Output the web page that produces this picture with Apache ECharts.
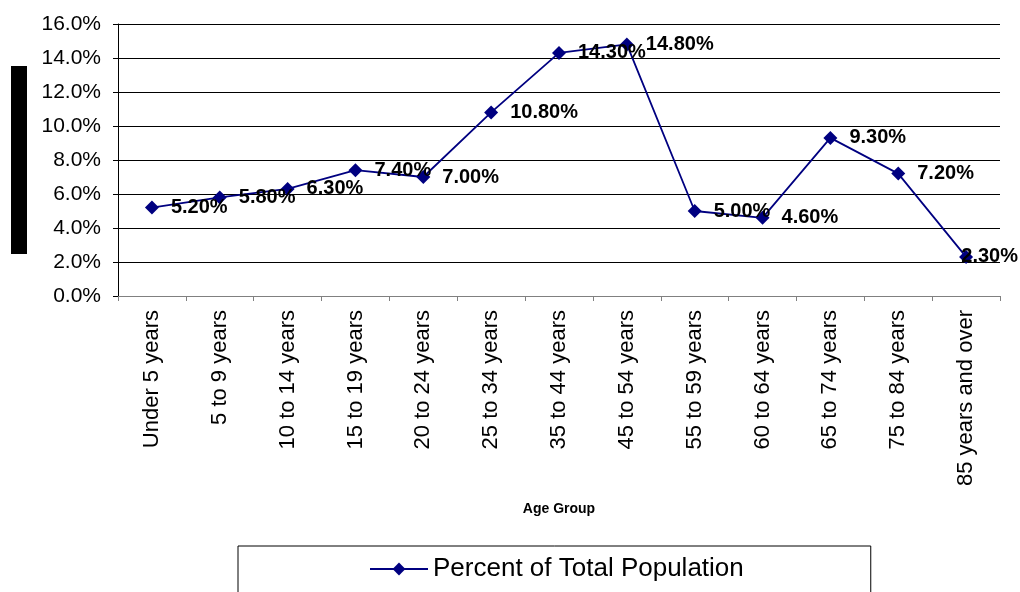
<!DOCTYPE html>
<html>
<head>
<meta charset="utf-8">
<script src="https://cdn.jsdelivr.net/npm/echarts@6/dist/echarts.min.js"></script>
<style>
  html, body { margin: 0; padding: 0; background: #fff; }
  #chart { width: 1020px; height: 592px; }
</style>
</head>
<body>
<div id="chart"></div>
<script>
  const categories = ['Under 5 years', '5 to 9 years', '10 to 14 years', '15 to 19 years', '20 to 24 years', '25 to 34 years',
    '35 to 44 years', '45 to 54 years', '55 to 59 years', '60 to 64 years', '65 to 74 years', '75 to 84 years', '85 years and over']
  const percentValues = [5.2, 5.8, 6.3, 7.4, 7.0, 10.8, 14.3, 14.8, 5.0, 4.6, 9.3, 7.2, 2.3]
  const seriesName = 'Percent of Total Population'

  const chart = echarts.init(document.getElementById('chart'))
  const font = 'Arial, "Liberation Sans", sans-serif'
  chart.setOption({
    animation: false,
    grid: { left: 118, right: 20, top: 24, bottom: 296 },
    graphic: [
      { type: 'rect', left: 11, top: 66, shape: { width: 16, height: 188 }, style: { fill: '#000' } },
    ],
    legend: {
      data: [seriesName],
      left: 238,
      top: 546,
      padding: [10, 127, 40, 131],
      borderColor: '#000',
      borderWidth: 1,
      itemWidth: 58,
      itemHeight: 16,
      itemGap: 4,
      textStyle: { fontFamily: font, fontSize: 26, color: '#000' },
    },
    xAxis: {
      type: 'category',
      data: categories,
      boundaryGap: true,
      name: 'Age Group',
      nameLocation: 'middle',
      nameGap: 206,
      nameTextStyle: { fontFamily: font, fontSize: 14, fontWeight: 'bold', color: '#000' },
      axisLine: { lineStyle: { color: '#808080', width: 1 } },
      axisTick: { show: true, alignWithLabel: false, length: 5, lineStyle: { color: '#808080' } },
      axisLabel: { rotate: 90, interval: 0, margin: 14, fontFamily: font, fontSize: 22, color: '#000' },
      splitLine: { show: false },
    },
    yAxis: {
      type: 'value',
      min: 0,
      max: 16,
      interval: 2,
      axisLine: { show: true, lineStyle: { color: '#000', width: 1 } },
      axisTick: { show: true, length: 5, lineStyle: { color: '#000' } },
      axisLabel: { margin: 17, fontFamily: font, fontSize: 21, color: '#000', formatter: v => v.toFixed(1) + '%' },
      splitLine: { show: true, lineStyle: { color: '#000', width: 1 } },
    },
    series: [
      {
        name: seriesName,
        type: 'line',
        data: percentValues,
        color: '#000080',
        symbol: 'diamond',
        symbolSize: 14,
        lineStyle: { width: 1.8, color: '#000080' },
        label: {
          show: true,
          position: 'right',
          distance: 12,
          fontFamily: font,
          fontSize: 20,
          fontWeight: 'bold',
          color: '#000',
          formatter: p => p.value.toFixed(2) + '%',
        },
        labelLayout: p => {
          const r = p.labelRect
          if (r.x + r.width <= 1018) return {}
          return { x: 1018 - r.width, y: r.y + r.height / 2, align: 'left', verticalAlign: 'middle' }
        },
      },
    ],
  })
</script>
</body>
</html>
